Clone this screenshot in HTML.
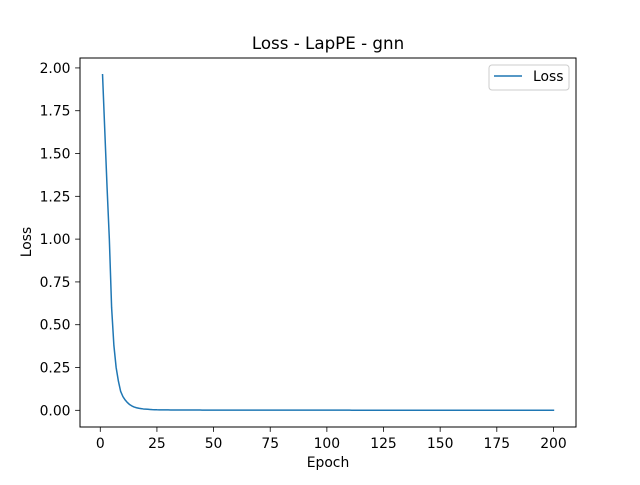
<!DOCTYPE html>
<html><head><meta charset="utf-8"><style>
body{margin:0;background:#fff}
svg text{font-family:"DejaVu Sans","Liberation Sans",sans-serif;fill:#000}
</style></head><body>
<svg id="chart" width="640" height="480" xmlns="http://www.w3.org/2000/svg">
<rect width="640" height="480" fill="#fff"/>
<text x="328" y="49" font-size="16.7" text-anchor="middle">Loss - LapPE - gnn</text>
<g id="plot"></g>
<rect x="80" y="58" width="496" height="369" fill="none" stroke="#000" stroke-width="1"/>
<text x="328" y="467" font-size="13.9" text-anchor="middle">Epoch</text>
<text transform="translate(31,242) rotate(-90)" font-size="13.9" text-anchor="middle">Loss</text>
<g>
<rect x="489" y="65" width="80" height="25" rx="3" fill="#fff" stroke="#ccc" stroke-width="1"/>
<line x1="494" y1="76" x2="522" y2="76" stroke="#1f77b4" stroke-width="1.5"/>
<text x="533" y="81" font-size="13.9">Loss</text>
</g>
</svg>
<script>
const lossHead=[1.96,1.63,1.30,1.00,0.60,0.38,0.25,0.17,0.11,0.08,0.06,0.045,0.033,0.025,0.019,0.015,0.012,0.010,0.008,0.007,0.006,0.005,0.004,0.0035,0.003];
const lossTail=[0.0028,0.0026,0.0025,0.0024,0.0023,0.0022,0.0021,0.002,0.002,0.0019,0.0018,0.0018,0.0017,0.0017,0.0016,
0.0016,0.0015,0.0015,0.0015,0.0014,0.0014,0.0014,0.0013,0.0013,0.0013,0.0013,0.0012,0.0012,0.0012,0.0012,
0.0012,0.0011,0.0011,0.0011,0.0011,0.0011,0.0011,0.001,0.001,0.001,0.001,0.001,0.001,0.001,0.001,
0.001,0.001,0.001,0.001,0.001,0.0009,0.0009,0.0009,0.0009,0.0009,0.0009,0.0009,0.0009,0.0009,0.0009,
0.0009,0.0009,0.0009,0.0009,0.0009,0.0008,0.0008,0.0008,0.0008,0.0008,0.0008,0.0008,0.0008,0.0008,0.0008,
0.0008,0.0008,0.0008,0.0008,0.0008,0.0008,0.0008,0.0008,0.0008,0.0008,0.0007,0.0007,0.0007,0.0007,0.0007,
0.0007,0.0007,0.0007,0.0007,0.0007,0.0007,0.0007,0.0007,0.0007,0.0007,0.0007,0.0007,0.0007,0.0007,0.0007,
0.0007,0.0007,0.0007,0.0007,0.0007,0.0006,0.0006,0.0006,0.0006,0.0006,0.0006,0.0006,0.0006,0.0006,0.0006,
0.0006,0.0006,0.0006,0.0006,0.0006,0.0006,0.0006,0.0006,0.0006,0.0006,0.0006,0.0006,0.0006,0.0006,0.0006,
0.0006,0.0006,0.0006,0.0006,0.0006,0.0006,0.0006,0.0006,0.0006,0.0006,0.0005,0.0005,0.0005,0.0005,0.0005,
0.0005,0.0005,0.0005,0.0005,0.0005,0.0005,0.0005,0.0005,0.0005,0.0005,0.0005,0.0005,0.0005,0.0005,0.0005,
0.0005,0.0005,0.0005,0.0005,0.0005,0.0005,0.0005,0.0005,0.0005,0.0005];
const xTicks=[0,25,50,75,100,125,150,175,200];
const yTicks=[0,0.25,0.5,0.75,1.0,1.25,1.5,1.75,2.0];
const yTickLabels=["0.00","0.25","0.50","0.75","1.00","1.25","1.50","1.75","2.00"];

const NS="http://www.w3.org/2000/svg";
const loss=lossHead.concat(lossTail);
const epochs=loss.map((_,i)=>i+1);
const L=80,R=576,T=58,B=427;
const xmin=1,xmax=epochs.length;
const xpad=(xmax-xmin)*0.05;
const ymaxD=Math.max(...loss),yminD=Math.min(...loss);
const ypad=(ymaxD-yminD)*0.05;
function X(v){return L+(v-(xmin-xpad))/((xmax+xpad)-(xmin-xpad))*(R-L);}
function Y(v){return B-(v-(yminD-ypad))/((ymaxD+ypad)-(yminD-ypad))*(B-T);}
const g=document.getElementById('plot');
function el(t,a){const e=document.createElementNS(NS,t);for(const k in a)e.setAttribute(k,a[k]);g.appendChild(e);return e;}
xTicks.forEach(v=>{
  const x=X(v);
  const t=el('line',{x1:x,x2:x,y1:B,y2:B+4.9,stroke:'#000','stroke-width':0.8});
  
  
  const tx=el('text',{x:x,y:B+21,'font-size':13.9,'text-anchor':'middle'});
  tx.textContent=v;
  
  
});
yTicks.forEach((v,i)=>{
  const y=Y(v);
  const t=el('line',{x1:L-4.9,x2:L,y1:y,y2:y,stroke:'#000','stroke-width':0.8});
  
  
  const tx=el('text',{x:L-9.5,y:y+5,'font-size':13.9,'text-anchor':'end'});
  tx.textContent=yTickLabels[i];
  
  
});
const d=loss.map((v,i)=>(i?'L':'M')+X(epochs[i]).toFixed(2)+','+Y(v).toFixed(2)).join(' ');
const p=el('path',{d:d,fill:'none',stroke:'#1f77b4','stroke-width':1.5,'stroke-linejoin':'round','stroke-linecap':'square'});


</script>
</body></html>
